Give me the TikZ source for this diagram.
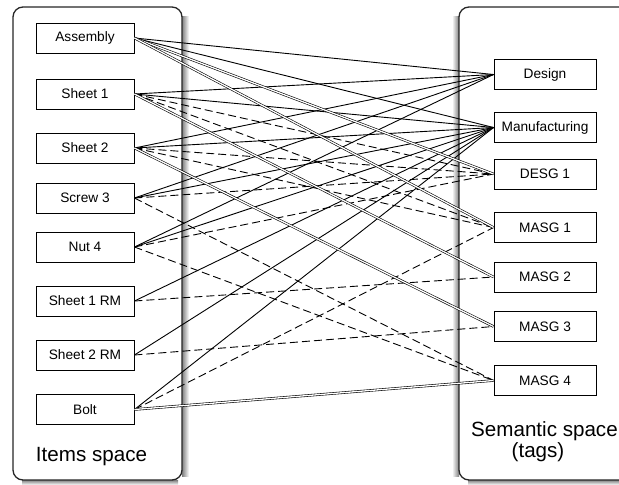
\documentclass[tikz,border=0pt]{standalone}
\usepackage{fontspec}
\setmainfont{Liberation Sans}
\begin{document}
\begin{tikzpicture}[x=1pt,y=-1pt,
  item/.style={draw, fill=white, line width=0.9pt, minimum width=98pt, minimum height=30pt, inner sep=0pt, font=\fontsize{13.7}{15}\selectfont},
  tagbox/.style={item, minimum width=102pt},
  container/.style={draw=black!85, line width=1.3pt, rounded corners=10pt, fill=white},
  spacelabel/.style={inner sep=0pt, font=\fontsize{20.6}{23}\selectfont},
  link/.style={line width=0.9pt},
  dlink/.style={double, double distance=1.3pt, line width=0.6pt},
  dashlink/.style={line width=0.9pt, dash pattern=on 8pt off 4pt}
]
\useasboundingbox (0,0) rectangle (619,485);
% shadows
\shade[left color=black!50, right color=white] (182,16) rectangle (189,476);
\shade[top color=black!50, bottom color=white] (22,480) rectangle (178,485);
\shade[left color=white, right color=black!50] (452,16) rectangle (459,476);
\shade[top color=black!50, bottom color=white] (468,480) rectangle (619,485);
% containers
\path[container] (13,7) rectangle (182,480);
\path[container] (459,7) rectangle (660,480);
% item nodes
\node[item] (asm) at (85,38) {Assembly};
\node[item] (s1) at (85,94) {Sheet 1};
\node[item] (s2) at (85,148) {Sheet 2};
\node[item] (sc3) at (85,198) {Screw 3};
\node[item] (n4) at (85,247) {Nut 4};
\node[item] (s1rm) at (85,301) {Sheet 1 RM};
\node[item] (s2rm) at (85,355) {Sheet 2 RM};
\node[item] (bolt) at (85,409.5) {Bolt};
% tag nodes
\node[tagbox] (des) at (545,74.5) {Design};
\node[tagbox] (man) at (545,127.5) {Manufacturing};
\node[tagbox] (desg1) at (545,174) {DESG 1};
\node[tagbox] (masg1) at (545,227.5) {MASG 1};
\node[tagbox] (masg2) at (545,277) {MASG 2};
\node[tagbox] (masg3) at (545,326.5) {MASG 3};
\node[tagbox] (masg4) at (545,380.5) {MASG 4};
% labels
\node[spacelabel, anchor=base] (itemslbl) at (91.5,461) {Items space};
\node[spacelabel, anchor=base west] (semlbl) at (471,436) {Semantic space};
\node[spacelabel, anchor=base] (tagslbl) at (538,457) {(tags)};
% solid links
\foreach \a in {asm,s1,s2,sc3,n4}{\draw[link] (\a.east) -- (des.west);}
\foreach \a in {asm,s1,s2,sc3,n4,s1rm,s2rm,bolt}{\draw[link] (\a.east) -- (man.west);}
% dashed links
\draw[dashlink] (s1.east) -- (desg1.west);
\draw[dashlink] (s2.east) -- (desg1.west);
\draw[dashlink] (sc3.east) -- (desg1.west);
\draw[dashlink] (n4.east) -- (desg1.west);
\draw[dashlink] (s1.east) -- (masg1.west);
\draw[dashlink] (s2.east) -- (masg1.west);
\draw[dashlink] (bolt.east) -- (masg1.west);
\draw[dashlink] (s1rm.east) -- (masg2.west);
\draw[dashlink] (s2rm.east) -- (masg3.west);
\draw[dashlink] (sc3.east) -- (masg4.west);
\draw[dashlink] (n4.east) -- (masg4.west);
% double links
\draw[dlink] (asm.east) -- (desg1.west);
\draw[dlink] (asm.east) -- (masg1.west);
\draw[dlink] (s1.east) -- (masg2.west);
\draw[dlink] (s2.east) -- (masg3.west);
\draw[dlink] (bolt.east) -- (masg4.west);
\end{tikzpicture}
\end{document}
